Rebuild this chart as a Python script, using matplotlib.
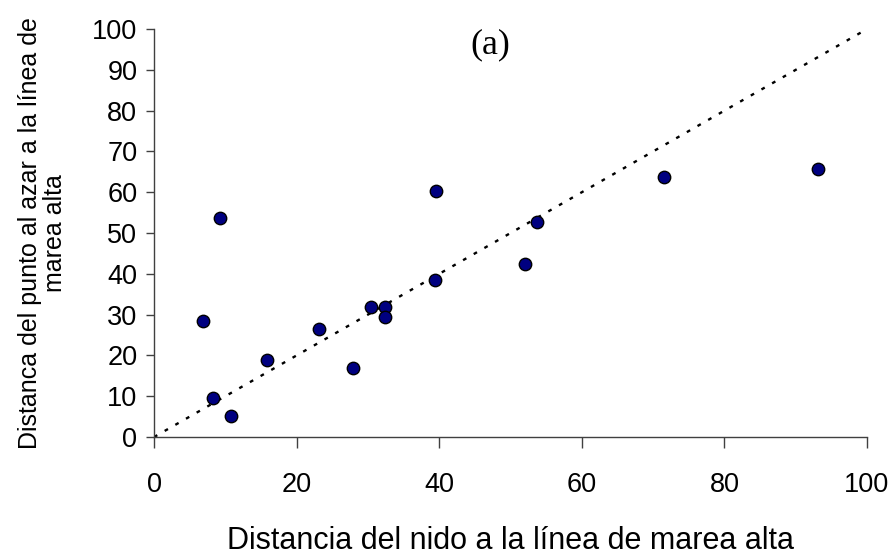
import matplotlib.pyplot as plt

# Distancia del nido vs distancia del punto al azar (m)
dist_nido = [6.9, 8.3, 9.2, 10.8, 15.8, 23.2, 27.9, 30.4, 32.4, 32.4,
             39.4, 39.6, 52.0, 53.7, 71.6, 93.2]
dist_azar = [28.4, 9.6, 53.6, 5.2, 18.8, 26.5, 16.8, 31.8, 31.8, 29.3,
             38.6, 60.3, 42.4, 52.6, 63.7, 65.7]

# linea 1:1
ref_x = [0, 100]
ref_y = [0, 100]

x_ticks = [0, 20, 40, 60, 80, 100]
y_ticks = list(range(0, 101, 10))

plt.rcParams['font.family'] = ['Liberation Sans', 'DejaVu Sans']

fig = plt.figure(figsize=(8.96, 5.59), dpi=100)
ax = fig.add_axes([0.1719, 0.2182, 0.7957, 0.7298])

ax.plot(ref_x, ref_y, color='black', linestyle=(0, (1.6, 3.6)), linewidth=1.7,
        zorder=2)
ax.scatter(dist_nido, dist_azar, s=80, color='#000080', edgecolors='black',
           linewidths=1.0, zorder=3)

ax.set_xlim(0, 100)
ax.set_ylim(0, 100)
ax.set_xticks(x_ticks)
ax.set_yticks(y_ticks)

for side in ['top', 'right']:
    ax.spines[side].set_visible(False)
for side in ['left', 'bottom']:
    ax.spines[side].set_color('#404040')
    ax.spines[side].set_linewidth(1.0)

ax.tick_params(axis='x', direction='out', length=8, width=1.0,
               color='#404040', labelsize=19.5, pad=17)
ax.tick_params(axis='y', direction='out', length=6, width=1.0,
               color='#404040', labelsize=19.5, pad=6)

ax.set_xlabel('Distancia del nido a la línea de marea alta', fontsize=22,
              labelpad=20)
ax.set_ylabel('Distanca del punto al azar a la línea de\nmarea alta',
              fontsize=18, labelpad=18, linespacing=1.05)

ax.text(0.472, 0.962, '(a)', transform=ax.transAxes, ha='center', va='center',
        fontsize=26, family='Liberation Serif')

fig.savefig('out.png', dpi=100)
